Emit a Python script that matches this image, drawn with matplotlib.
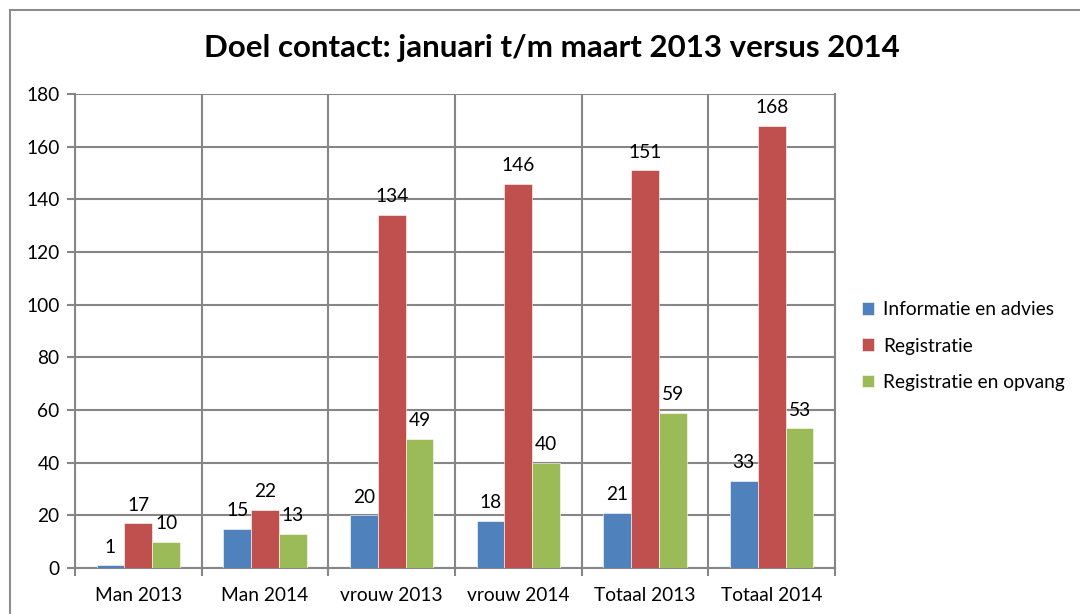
import matplotlib.pyplot as plt
import numpy as np
from matplotlib.patches import Rectangle

plt.rcParams["font.family"] = ["Lato", "DejaVu Sans"]

categories = ["Man 2013", "Man 2014", "vrouw 2013", "vrouw 2014", "Totaal 2013", "Totaal 2014"]
series_names = ["Informatie en advies", "Registratie", "Registratie en opvang"]
info_advies = [1, 15, 20, 18, 21, 33]
registratie = [17, 22, 134, 146, 151, 168]
reg_opvang = [10, 13, 49, 40, 59, 53]
colors = ["#4F81BD", "#C0504D", "#9BBB59"]
grid_col = "#868686"
fs = 13.8

fig = plt.figure(figsize=(10.8, 6.14), dpi=100)
ax = fig.add_axes([75 / 1080, 1 - 568 / 614, 760 / 1080, 474 / 614])

# chart frame (runs off the right/bottom edge like in the screenshot)
fig.patches.append(Rectangle((10 / 1080, -0.05), 1.2, 1 - 10 / 614 + 0.05,
                             transform=fig.transFigure, fill=False,
                             ec="#8c8c8c", lw=1.5))

x = np.arange(len(categories))
w = 0.22
for i, (vals, name) in enumerate(zip([info_advies, registratie, reg_opvang], series_names)):
    bars = ax.bar(x + (i - 1) * w, vals, w, color=colors[i], label=name,
                  edgecolor="white", linewidth=0.4, zorder=3)
    for b, v in zip(bars, vals):
        ax.annotate(str(v), (b.get_x() + b.get_width() / 2, v),
                    xytext=(0, 7), textcoords="offset points",
                    ha="center", va="bottom", fontsize=fs, color="black")

ax.set_xlim(-0.5, len(categories) - 0.5)
ax.set_ylim(0, 180)
ax.set_yticks(range(0, 181, 20))
ax.set_xticks(x)
ax.set_xticklabels(categories, fontsize=fs)
ax.set_xticks(np.arange(-0.5, len(categories), 1), minor=True)
ax.tick_params(axis="x", which="major", length=0, pad=14)
ax.tick_params(axis="x", which="minor", length=6, color=grid_col, width=1.5)
ax.tick_params(axis="y", length=6, color=grid_col, width=1.5, labelsize=fs, pad=5)

ax.grid(axis="y", color=grid_col, lw=1.5, zorder=0)
ax.grid(axis="x", which="minor", color=grid_col, lw=1.5, zorder=0)
for s in ax.spines.values():
    s.set_color(grid_col)
    s.set_linewidth(1.5)
ax.spines["top"].set_visible(False)

fig.text(552 / 1080, 1 - 48 / 614, "Doel contact: januari t/m maart 2013 versus 2014",
         ha="center", va="center", fontsize=22.5, fontweight="bold")

ax.legend(loc="center left", bbox_to_anchor=(862 / 1080, 1 - 346 / 614),
          bbox_transform=fig.transFigure, frameon=False, fontsize=fs,
          handlelength=0.65, handleheight=0.65, handletextpad=0.45, labelspacing=1.0,
          borderpad=0, borderaxespad=0)

fig.savefig("out.png", dpi=100)
